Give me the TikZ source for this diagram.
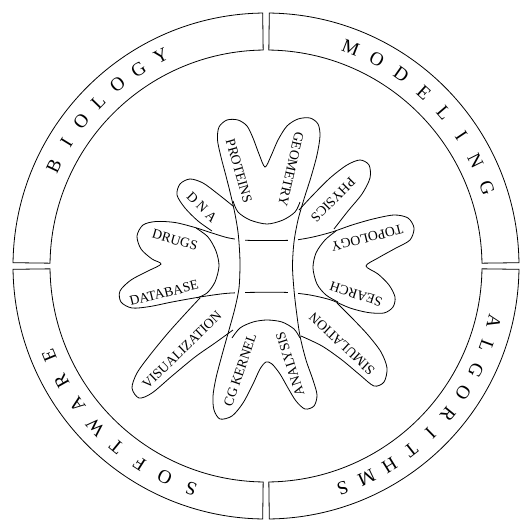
\documentclass[tikz,border=0pt]{standalone}
\usepackage{fontspec}
\setmainfont{Liberation Serif}
\begin{document}
\begin{tikzpicture}[x=1pt,y=-1pt,line width=.8pt,
  lbl/.style={font=\fontsize{13.7}{16}\selectfont,inner sep=0pt},
  big/.style={font=\fontsize{19}{21}\selectfont,inner sep=0pt},
  gapfill/.style={fill=white,draw=none}]
\useasboundingbox (0,0) rectangle (520,523);
\begin{scope}[shift={(266,266)}]
\foreach \a in {0,90,180,270}
  \draw ({\a+.75}:216) arc[start angle=\a+.75,end angle=\a+89.25,radius=216] -- ({\a+89.25}:253) arc[start angle=\a+89.25,end angle=\a+.75,radius=253] -- cycle;
\foreach \c [count=\i from 0] in {B,I,O,L,O,G,Y}
  \node[big,rotate={64.7-6.35*\i}] (bio\i) at ({-154.7+6.35*\i}:234.5) {\c};
\foreach \c [count=\i from 0] in {M,O,D,E,L,I,N,G}
  \node[big,rotate={-21.2-7.03*\i}] (mod\i) at ({-68.8+7.03*\i}:234.5) {\c};
\foreach \c [count=\i from 0] in {A,L,G,O,R,I,T,H,M,S}
  \node[big,rotate={-103.7-6.36*\i}] (alg\i) at ({13.7+6.36*\i}:234.5) {\c};
\foreach \c [count=\i from 0] in {S,O,F,T,W,A,R,E}
  \node[big,rotate={-198.6-7*\i}] (sof\i) at ({108.6+7*\i}:234.5) {\c};
\end{scope}
% horizontal band with the left and right hearts
\draw plot[smooth cycle] coordinates {(266,240.5) (245,240.2) (228,237.8) (212,233) (195,227.5) (175,222.5) (156,221.5) (143,225) (137,236) (141,249) (152,259) (161,264) (148,271) (131,280) (120,291) (121,302) (132,308) (150,306.5) (172,302) (200,297) (225,293.5) (245,292.5) (266,292.3) (288,292.5) (310,295) (331,300) (350,308) (368,312.5) (384,313) (393,307) (395,297) (389,285) (378,274) (366,266) (378,258) (396,248) (410,240) (414,228) (408,218) (394,215) (373,219) (352,225) (332,232) (313,237) (296,240) (285,240.4)};
% closing arcs
\draw plot[smooth] coordinates {(233,201) (238,212) (250,220) (267,224) (283,220) (295,212) (300,202)};
\draw plot[smooth] coordinates {(196,228) (208,237) (216,251) (219,266) (215,282) (207,293) (197,298)};
\draw plot[smooth] coordinates {(336,231) (325,240) (316,253) (313,268) (317,284) (326,295) (338,302)};
\draw plot[smooth] coordinates {(232,338) (240,328) (253,322) (267,320) (282,322) (294,329) (300,338)};
% diagonal lobes
\draw plot[smooth] coordinates {(233,206) (218,194) (203,183) (190,179) (180,184) (177,195) (185,208) (198,221) (212,231)};
\draw plot[smooth] coordinates {(299,210) (312,196) (330,178) (347,165) (360,160) (369,165) (370,178) (362,194) (348,211) (334,229)};
\draw plot[smooth] coordinates {(337,303) (352,318) (368,335) (381,352) (387,368) (384,382) (374,386) (360,375) (342,360) (322,346) (301,336)};
\draw plot[smooth] coordinates {(200,298) (186,313) (168,333) (150,355) (137,373) (132,388) (139,398) (152,393) (172,376) (195,357) (215,343) (233,330)};
% crossings
\foreach \p in {(240,240.5),(292.5,240.5),(240,292.3),(292.5,292.3)}
  \fill[gapfill] \p ++(-5,-3.5) rectangle ++(10,7);
% vertical band with the top and bottom hearts
\draw plot[smooth cycle] coordinates {(240,266) (239.5,250) (238,232) (235,214) (231,196) (226,176) (221,157) (217.5,140) (219,127) (227,120) (238,120) (247,126) (253,138) (259,154) (265,167) (271,156) (278,140) (287,126) (298,119) (310,118) (318,124) (320,136) (317,155) (311,177) (304,199) (298,220) (294,242) (292.5,266) (294,290) (296.5,312) (300,336) (306,360) (313,380) (317,395) (314,406) (305,409) (296,401) (288,388) (280,374) (272,364) (266,362) (260,369) (253,384) (243,403) (232,416) (220,419) (214,410) (213,396) (216,378) (222,355) (229,330) (235,308) (239,288)};
\node[lbl,rotate=-74] (proteins) at (239,171) {PROTEINS};
\node[lbl,rotate=-103] (geometry) at (291,169) {GEOMETRY};
\node[lbl,rotate=-45] (dna) at (202,207) {D N A};
\node[lbl,rotate=-135] (physics) at (333,200) {PHYSICS};
\node[lbl,rotate=194] (topology) at (367,238) {TOPOLOGY};
\node[lbl,rotate=162] (search) at (356,294) {SEARCH};
\node[lbl,rotate=137] (simulation) at (342,344) {SIMULATION};
\node[lbl,rotate=108] (analysis) at (290,364) {ANALYSIS};
\node[lbl,rotate=71] (cgkernel) at (240,370) {CG KERNEL};
\node[lbl,rotate=44] (visualization) at (182,350) {VISUALIZATION};
\node[lbl,rotate=14] (database) at (164,293) {DATABASE};
\node[lbl,rotate=-16] (drugs) at (175,240) {DRUGS};
\end{tikzpicture}
\end{document}
